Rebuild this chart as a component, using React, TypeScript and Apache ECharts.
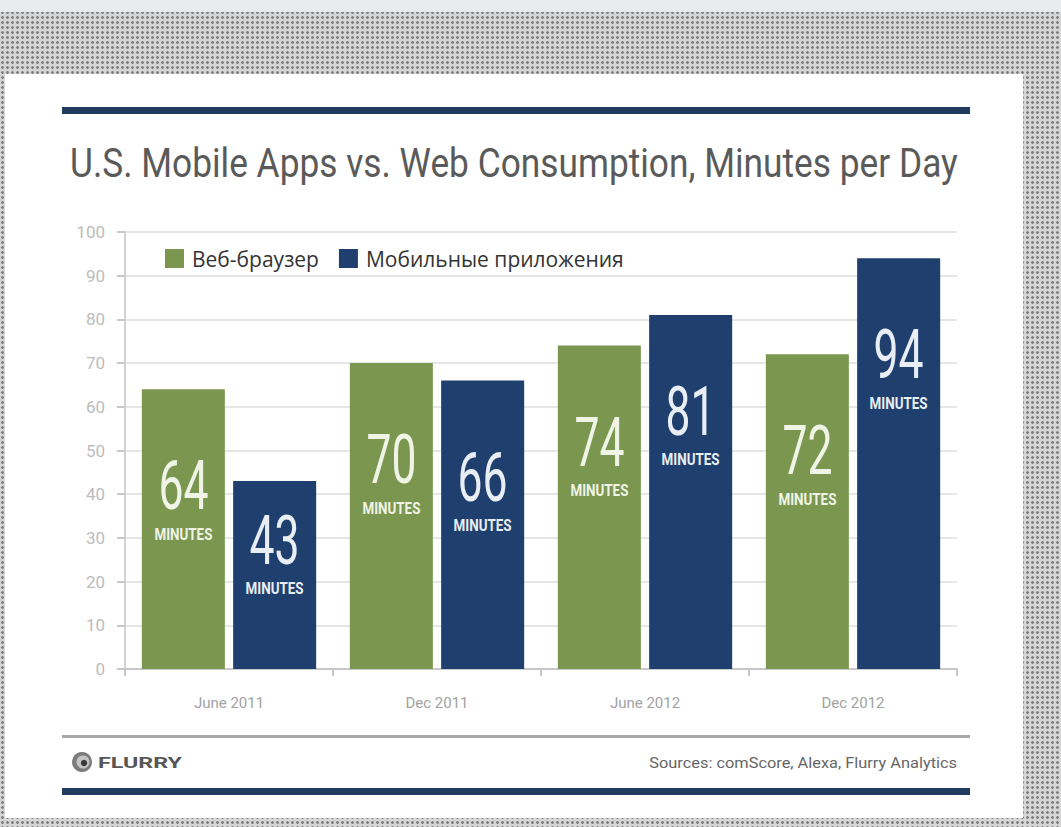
import React, { useEffect, useRef } from "react";
import * as echarts from "echarts";

const categories = ["June 2011", "Dec 2011", "June 2012", "Dec 2012"];
const webBrowser = [64, 70, 74, 72];
const mobileApps = [43, 66, 81, 94];
const seriesNames = ["Веб-браузер", "Мобильные приложения"];
const unitText = "MINUTES";
const titleText = "U.S. Mobile Apps vs. Web Consumption, Minutes per Day";
const sourceText = "Sources: comScore, Alexa, Flurry Analytics";
const logoText = "FLURRY";

const FONT = "Roboto, 'Noto Sans', sans-serif";
const GREEN = "#7b974f";
const BLUE = "#1f406f";
const NAVY = "#1f3b5e";
const BAR_W = 83;
const BAR_OFFSET = 45.6;

function measure(text: string, font: string, fallback: number): number {
  const c = document.createElement("canvas").getContext("2d");
  if (!c) return fallback;
  c.font = font;
  const w = c.measureText(text).width;
  return w > 0 ? w : fallback;
}

export default function App() {
  const ref = useRef<HTMLDivElement>(null);
  useEffect(() => {
    if (!ref.current) return;
    const chart = echarts.init(ref.current, undefined, { renderer: "svg" });

    const titleFont = "41px " + FONT;
    const titleScale = 888 / measure(titleText, titleFont, 888);
    const numFont = "68px " + FONT;
    const numScale = 50 / measure("00", numFont, 50);
    const unitFont = "bold 16px " + FONT;
    const unitScale = 58 / measure(unitText, unitFont, 58);
    const srcFont = "15px " + FONT;
    const srcScale = 308 / measure(sourceText, srcFont, 308);
    const logoFont = "bold 15px " + FONT;
    const logoScale = 84 / measure(logoText, logoFont, 84);

    const makeLabels = (values: number[], dir: number, fill: string) => ({
      type: "custom",
      name: "labels" + dir,
      z: 5,
      silent: true,
      data: values.map((v, i) => [i, v]),
      encode: { x: 0, y: 1 },
      renderItem: (params: any, api: any) => {
        const idx = api.value(0);
        const val = api.value(1);
        const top = api.coord([idx, val]);
        const base = api.coord([idx, 0]);
        const cx = top[0] + dir * BAR_OFFSET;
        const cy = Math.min(top[1] + 97, base[1] - 128);
        return {
          type: "group",
          children: [
            {
              type: "text",
              x: cx,
              y: cy,
              scaleX: numScale,
              style: { text: String(val), font: numFont, fill, textAlign: "center", textVerticalAlign: "middle" },
            },
            {
              type: "text",
              x: cx,
              y: cy + 48,
              scaleX: unitScale,
              style: { text: unitText, font: unitFont, fill, textAlign: "center", textVerticalAlign: "middle" },
            },
          ],
        };
      },
    });

    chart.setOption({
      animation: false,
      backgroundColor: "transparent",
      graphic: [
        { type: "rect", z: -10, shape: { x: 5, y: 74, width: 1018, height: 744 }, style: { fill: "#ffffff" } },
        { type: "rect", shape: { x: 62, y: 107, width: 908, height: 7 }, style: { fill: NAVY } },
        {
          type: "text",
          x: 70,
          y: 163,
          scaleX: titleScale,
          style: { text: titleText, font: titleFont, fill: "#5a5a5a", textVerticalAlign: "middle" },
        },
        { type: "rect", shape: { x: 62, y: 735, width: 908, height: 3 }, style: { fill: "#a8a8a8" } },
        { type: "circle", shape: { cx: 82, cy: 762, r: 10 }, style: { fill: "#7c7c7c" } },
        { type: "circle", shape: { cx: 83, cy: 762, r: 6.5 }, style: { fill: "#c4c4c4" } },
        { type: "circle", shape: { cx: 84, cy: 763, r: 3.2 }, style: { fill: "#3a3a3a" } },
        {
          type: "text",
          x: 98,
          y: 763,
          scaleX: logoScale,
          style: { text: logoText, font: logoFont, fill: "#575757", textVerticalAlign: "middle" },
        },
        {
          type: "text",
          x: 957,
          y: 763,
          scaleX: srcScale,
          style: { text: sourceText, font: srcFont, fill: "#666666", textAlign: "right", textVerticalAlign: "middle" },
        },
        { type: "rect", shape: { x: 62, y: 788, width: 908, height: 7 }, style: { fill: NAVY } },
      ],
      legend: {
        left: 160,
        top: 243,
        itemWidth: 19,
        itemHeight: 19,
        itemGap: 20,
        icon: "rect",
        textStyle: { fontFamily: "'Open Sans', Roboto, sans-serif", fontSize: 21, color: "#333333", padding: [0, 0, 0, 3] },
        data: seriesNames,
      },
      grid: { left: 125, right: 104, top: 232, bottom: 158 },
      xAxis: {
        type: "category",
        data: categories,
        axisLine: { lineStyle: { color: "#c8c8c8", width: 2 } },
        axisTick: { show: true, alignWithLabel: false, length: 7, lineStyle: { color: "#c8c8c8", width: 2 } },
        axisLabel: { fontFamily: FONT, fontSize: 15, color: "#a2a2a2", margin: 26 },
      },
      yAxis: {
        type: "value",
        min: 0,
        max: 100,
        interval: 10,
        axisLine: { show: true, lineStyle: { color: "#d2d2d2", width: 2 } },
        axisTick: { show: true, length: 8, lineStyle: { color: "#c8c8c8", width: 2 } },
        splitLine: { lineStyle: { color: "#e6e6e6", width: 2 } },
        axisLabel: { fontFamily: FONT, fontSize: 17, color: "#bcbcbc", margin: 20 },
      },
      series: [
        {
          name: seriesNames[0],
          type: "bar",
          data: webBrowser,
          barWidth: BAR_W,
          barGap: "10%",
          itemStyle: { color: GREEN },
        },
        {
          name: seriesNames[1],
          type: "bar",
          data: mobileApps,
          barWidth: BAR_W,
          barGap: "10%",
          itemStyle: { color: BLUE },
        },
        makeLabels(webBrowser, -1, "#f0f4e6"),
        makeLabels(mobileApps, 1, "#e8eef4"),
      ],
    });
    return () => chart.dispose();
  }, []);
  return (
    <div
      style={{
        position: "fixed",
        left: 0,
        top: 0,
        width: 1061,
        height: 827,
        backgroundColor: "#d6d6d6",
        backgroundImage:
          "linear-gradient(#e9eaec, #e9eaec), radial-gradient(circle, #808080 1.1px, transparent 1.6px)",
        backgroundSize: "1061px 12px, 5px 5px",
        backgroundRepeat: "no-repeat, repeat",
      }}
    >
      <div ref={ref} style={{ width: 1061, height: 827 }} />
    </div>
  );
}
